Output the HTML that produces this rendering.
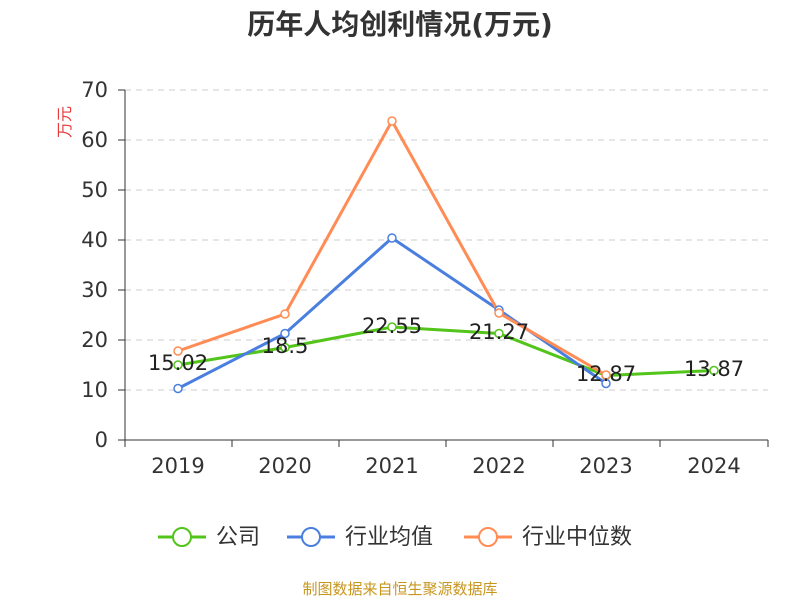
<!DOCTYPE html>
<html><head><meta charset="utf-8"><style>
body{margin:0;background:#fff;}
svg text{font-family:"DejaVu Sans","Noto Sans CJK SC",sans-serif;}
</style></head><body>
<svg width="800" height="600" xmlns="http://www.w3.org/2000/svg">
<text x="400" y="34" text-anchor="middle" font-size="28" font-weight="bold" fill="#333">历年人均创利情况(万元)</text>
<text x="70" y="122" font-size="16" fill="#e63b3b" transform="rotate(-90 70 122)" text-anchor="middle">万元</text>
<g stroke="#ccc" stroke-dasharray="6,5" stroke-width="1">
<line x1="125" x2="768" y1="90" y2="90"/><line x1="125" x2="768" y1="140" y2="140"/>
<line x1="125" x2="768" y1="190" y2="190"/><line x1="125" x2="768" y1="240" y2="240"/>
<line x1="125" x2="768" y1="290" y2="290"/><line x1="125" x2="768" y1="340" y2="340"/>
<line x1="125" x2="768" y1="390" y2="390"/>
</g>
<g stroke="#333" stroke-width="1">
<line x1="125" x2="125" y1="90" y2="440"/>
<line x1="125" x2="768" y1="440" y2="440"/>
<line x1="118" x2="125" y1="90" y2="90"/><line x1="118" x2="125" y1="140" y2="140"/>
<line x1="118" x2="125" y1="190" y2="190"/><line x1="118" x2="125" y1="240" y2="240"/>
<line x1="118" x2="125" y1="290" y2="290"/><line x1="118" x2="125" y1="340" y2="340"/>
<line x1="118" x2="125" y1="390" y2="390"/><line x1="118" x2="125" y1="440" y2="440"/>
<line x1="125" x2="125" y1="440" y2="447"/><line x1="232" x2="232" y1="440" y2="447"/>
<line x1="339" x2="339" y1="440" y2="447"/><line x1="446" x2="446" y1="440" y2="447"/>
<line x1="553" x2="553" y1="440" y2="447"/><line x1="660" x2="660" y1="440" y2="447"/>
<line x1="768" x2="768" y1="440" y2="447"/>
</g>
<g font-size="21" fill="#333" text-anchor="end">
<text x="108" y="97">70</text><text x="108" y="147">60</text><text x="108" y="197">50</text>
<text x="108" y="247">40</text><text x="108" y="297">30</text><text x="108" y="347">20</text>
<text x="108" y="397">10</text><text x="108" y="447">0</text>
</g>
<g font-size="21" fill="#333" text-anchor="middle">
<text x="178" y="473">2019</text><text x="285" y="473">2020</text><text x="392" y="473">2021</text>
<text x="499" y="473">2022</text><text x="606" y="473">2023</text><text x="714" y="473">2024</text>
</g>
<g fill="none" stroke-width="3">
<polyline stroke="#52c41a" points="178,365 285,347.5 392,327 499,333.5 606,375.5 714,370.5"/>
<polyline stroke="#4a7fe0" points="178,388.5 285,333.5 392,238 499,310 606,383.5"/>
<polyline stroke="#ff8c55" points="178,351 285,314 392,121 499,313 606,375"/>
</g>
<g fill="#fff" stroke-width="1.5">
<g stroke="#52c41a"><circle cx="178" cy="365" r="4"/><circle cx="285" cy="347.5" r="4"/><circle cx="392" cy="327" r="4"/><circle cx="499" cy="333.5" r="4"/><circle cx="606" cy="375.5" r="4"/><circle cx="714" cy="370.5" r="4"/></g>
<g stroke="#4a7fe0"><circle cx="178" cy="388.5" r="4"/><circle cx="285" cy="333.5" r="4"/><circle cx="392" cy="238" r="4"/><circle cx="499" cy="310" r="4"/><circle cx="606" cy="383.5" r="4"/></g>
<g stroke="#ff8c55"><circle cx="178" cy="351" r="4"/><circle cx="285" cy="314" r="4"/><circle cx="392" cy="121" r="4"/><circle cx="499" cy="313" r="4"/><circle cx="606" cy="375" r="4"/></g>
</g>
<g font-size="21" fill="#222" text-anchor="middle">
<text x="178" y="370">15.02</text><text x="285" y="353">18.5</text><text x="392" y="333">22.55</text>
<text x="499" y="339">21.27</text><text x="606" y="381">12.87</text><text x="714" y="376">13.87</text>
</g>
<g font-size="22" fill="#333">
<line x1="158" x2="206" y1="537" y2="537" stroke="#52c41a" stroke-width="3"/><circle cx="182" cy="537" r="9" fill="#fff" stroke="#52c41a" stroke-width="2"/>
<text x="216" y="544">公司</text>
<line x1="287" x2="335" y1="537" y2="537" stroke="#4a7fe0" stroke-width="3"/><circle cx="311" cy="537" r="9" fill="#fff" stroke="#4a7fe0" stroke-width="2"/>
<text x="345" y="544">行业均值</text>
<line x1="464" x2="512" y1="537" y2="537" stroke="#ff8c55" stroke-width="3"/><circle cx="488" cy="537" r="9" fill="#fff" stroke="#ff8c55" stroke-width="2"/>
<text x="522" y="544">行业中位数</text>
</g>
<text x="400" y="594" text-anchor="middle" font-size="15" fill="#c8961e">制图数据来自恒生聚源数据库</text>
</svg>
</body></html>
